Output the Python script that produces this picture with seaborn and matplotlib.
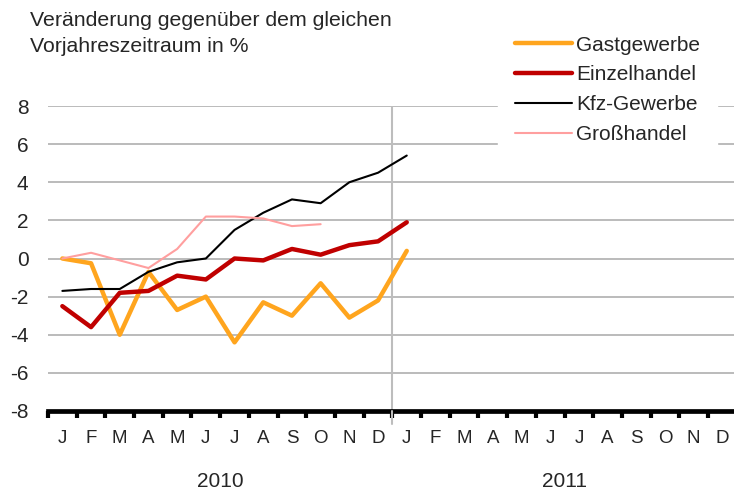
import matplotlib
matplotlib.use("Agg")
import matplotlib.pyplot as plt
import seaborn as sns
import pandas as pd
import numpy as np

months = ["J", "F", "M", "A", "M", "J", "J", "A", "S", "O", "N", "D"] * 2
years = ["2010", "2011"]

gastgewerbe = [0.0, -0.25, -4.0, -0.7, -2.7, -2.0, -4.4, -2.3, -3.0, -1.3, -3.1, -2.2, 0.4]
einzelhandel = [-2.5, -3.6, -1.8, -1.7, -0.9, -1.1, 0.0, -0.1, 0.5, 0.2, 0.7, 0.9, 1.9]
kfz = [-1.7, -1.6, -1.6, -0.7, -0.2, 0.0, 1.5, 2.4, 3.1, 2.9, 4.0, 4.5, 5.4]
grosshandel = [0.0, 0.3, -0.1, -0.5, 0.5, 2.2, 2.2, 2.1, 1.7, 1.8]

series = [
    ("Gastgewerbe", gastgewerbe, "#FFA51E", 3.2),
    ("Einzelhandel", einzelhandel, "#C00000", 3.2),
    ("Kfz-Gewerbe", kfz, "#000000", 1.5),
    ("Großhandel", grosshandel, "#FF9F9F", 1.5),
]

sns.set_style("white")
plt.rcParams['font.family'] = ['Liberation Sans', 'DejaVu Sans']

W, H = 734, 492
fig = plt.figure(figsize=(W / 100, H / 100), dpi=100)
left, right, top, bottom = 48, 48 + 24 * 28.7, 106, 411
ax = fig.add_axes([left / W, 1 - bottom / H, (right - left) / W, (bottom - top) / H])

for name, vals, color, lw in series:
    df = pd.DataFrame({"x": np.arange(len(vals)) + 0.5, "y": vals})
    sns.lineplot(data=df, x="x", y="y", ax=ax, color=color, linewidth=lw,
                 label=name, zorder=3)

ax.set_xlim(0, 24)
ax.set_ylim(-8, 8)
ax.set_yticks(np.arange(-8, 9, 2))
ax.set_yticklabels([str(v) for v in range(-8, 9, 2)], fontsize=15)
ax.yaxis.grid(True, color="#AFAFAF", linewidth=1.2)
ax.tick_params(axis="y", length=0, pad=14, left=False)

for s in ["top", "right", "left"]:
    ax.spines[s].set_visible(False)
ax.spines["bottom"].set_linewidth(3.4)
ax.spines["bottom"].set_color("black")
ax.spines["bottom"].set_zorder(5)

ax.set_xticks(np.arange(0, 25))
ax.set_xticklabels([])
ax.tick_params(axis="x", which="major", bottom=True, direction="out", length=5,
               width=3, color="black")
ax.set_xticks(np.arange(24) + 0.5, minor=True)
ax.set_xticklabels(months, minor=True, fontsize=13.5)
ax.tick_params(axis="x", which="minor", bottom=True, length=0, pad=14)
ax.set_xlabel("")
ax.set_ylabel("")

ax.axvline(12, ymin=0, ymax=1, color="#BDBDBD", linewidth=1.5, zorder=2)
ax.plot([12, 12], [-8, -8.7], color="#BDBDBD", linewidth=1.5, clip_on=False, zorder=6)

for i, yr in enumerate(years):
    ax.text(6 + 12 * i, -11.7, yr, ha="center", va="center", fontsize=15)

fig.text(30 / W, 1 - 20 / H, "Veränderung gegenüber dem gleichen", fontsize=15.3,
         va="center", ha="left")
fig.text(30 / W, 1 - 46 / H, "Vorjahreszeitraum in %", fontsize=15.3,
         va="center", ha="left")

leg = ax.legend(loc="upper left", bbox_to_anchor=(498 / W, 1 - 19 / H),
                bbox_transform=fig.transFigure, frameon=True, fontsize=15,
                handlelength=2.75, handletextpad=0.2, labelspacing=0.52,
                borderpad=0.8, borderaxespad=0)
leg.get_frame().set_edgecolor("white")
leg.get_frame().set_facecolor("white")
leg.get_frame().set_alpha(1)
leg.get_frame().set_boxstyle("square", pad=0)
leg.set_zorder(10)

fig.savefig("out.png", dpi=100)
